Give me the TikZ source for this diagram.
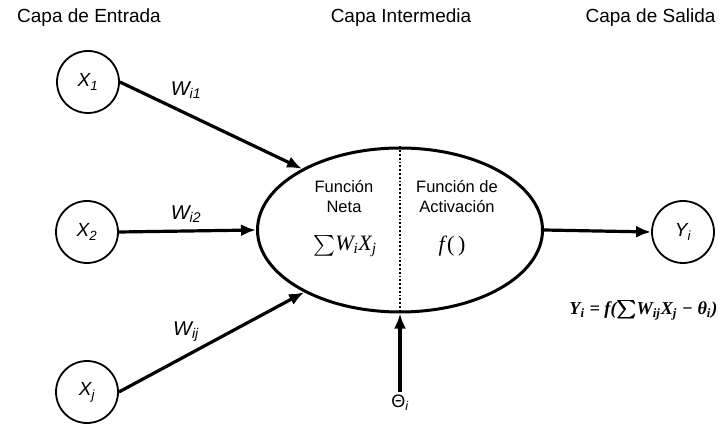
\documentclass[tikz,border=0pt]{standalone}
\usepackage{fontspec}
\setmainfont{Liberation Sans}
\newfontfamily\timesfont{Liberation Serif}
\usepackage{amsmath,bm}
\usetikzlibrary{arrows.meta,shapes.geometric}
\tikzset{
	unit/.style={draw, circle, line width=1.8pt, minimum size=62pt, inner sep=0pt, font=\fontsize{19}{22}\selectfont\itshape},
	link/.style={line width=3.2pt, -{Latex[length=15pt,width=12pt]}},
	layer/.style={font=\fontsize{19}{22}\selectfont},
	weight/.style={font=\fontsize{20}{24}\selectfont\itshape},
	part/.style={align=center, font=\fontsize{16.5}{20}\selectfont}
}

\begin{document}
\begin{tikzpicture}[x=1pt, y=-1pt]
			%%%%% START %%%%%
			\useasboundingbox (0, 0) rectangle (722, 427);
			
			\node[layer] (entrada) at (89, 18) {Capa de Entrada};
			\node[layer] (intermedia) at (401, 18) {Capa Intermedia};
			\node[layer, anchor=east] (salida) at (719, 18) {Capa de Salida};
			
			\node[unit] (x1) at (88, 82) {X\textsubscript{1}};
			\node[unit] (x2) at (87, 232) {X\textsubscript{2}};
			\node[unit] (xj) at (87, 392) {X\textsubscript{j}};
			\node[unit] (yi) at (683, 232) {Y\textsubscript{i}};
			
			\node[draw, ellipse, line width=3pt, minimum width=285pt, minimum height=164pt, inner sep=0pt] (neuron) at (400, 230) {};
			\draw[line width=1.8pt, dotted] (neuron.north) -- (neuron.south);
			
			\node[part] (neta) at (344, 197) {Función\\Neta};
			\node[part] (activ) at (457, 197) {Función de\\Activación};
			\node[font=\fontsize{22}{24}\selectfont\timesfont\itshape] (suma) at (345, 246) {$\sum$W\textsubscript{i}X\textsubscript{j}};
			\node[font=\fontsize{22}{24}\selectfont\timesfont] (fun) at (452, 246) {\textit{f}(\,)};
			
			\draw[link] (x1.east) -- (neuron.148);
			\draw[link] (x2.east) -- (neuron.west);
			\draw[link] (xj.east) -- (neuron.213);
			\draw[link] (neuron.east) -- (yi.west);
			
			\node[weight] (w1) at (186, 90) {W\textsubscript{i1}};
			\node[weight] (w2) at (186, 214) {W\textsubscript{i2}};
			\node[weight] (wj) at (186, 332) {W\textsubscript{ij}};
			
			\node[font=\fontsize{18}{22}\selectfont] (theta) at (400, 403) {Θ\textsubscript{\itshape i}};
			\draw[link] (theta.north) -- (neuron.south);
			
			\node[anchor=east, font=\timesfont\bfseries\itshape] (salidaeq) at (721, 310) {\resizebox{148pt}{!}{Y\textsubscript{i} = f($\boldsymbol{\sum}$W\textsubscript{ij}X\textsubscript{j} − θ\textsubscript{i})}};
			
			%%%%% END %%%%%
		\end{tikzpicture}
\end{document}
